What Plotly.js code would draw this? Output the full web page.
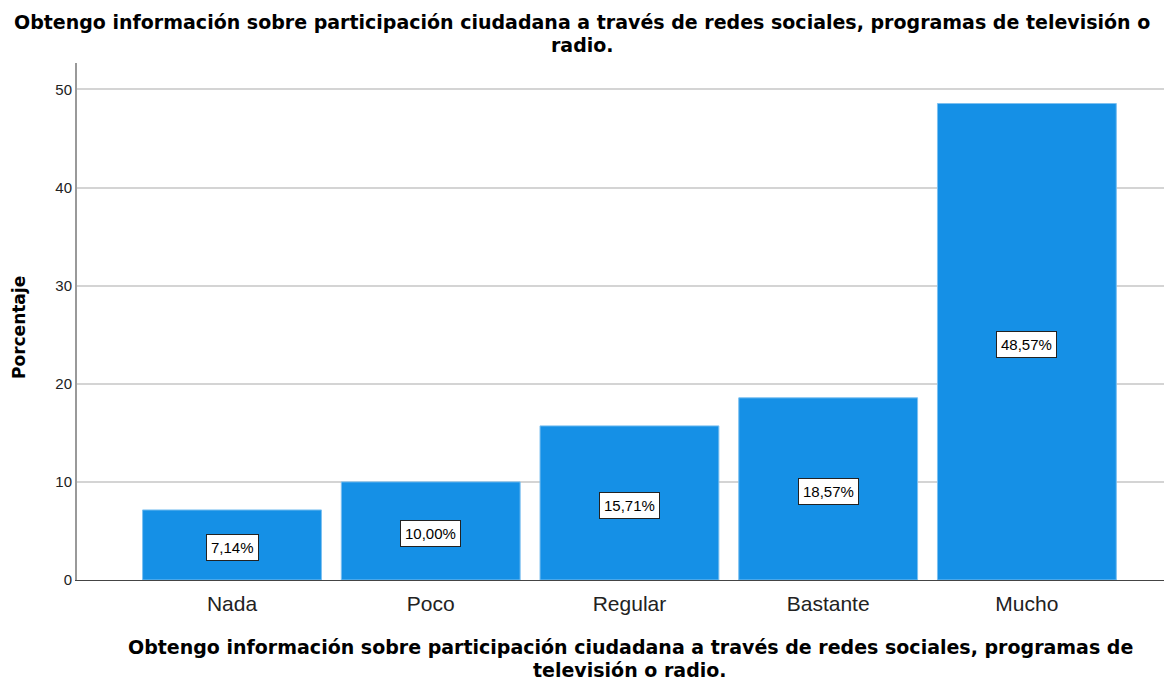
<!DOCTYPE html>
<html>
<head>
<meta charset="utf-8">
<script src="https://cdn.plot.ly/plotly-3.0.1.min.js"></script>
<style>html,body{margin:0;padding:0;background:#fff;}#chart{width:1164px;height:681px;}</style>
</head>
<body>
<div id="chart"></div>
<script>
const categories = ["Nada", "Poco", "Regular", "Bastante", "Mucho"];
const percentages = [7.14, 10.00, 15.71, 18.57, 48.57];
const valueLabels = ["7,14%", "10,00%", "15,71%", "18,57%", "48,57%"];
const yTicks = [0, 10, 20, 30, 40, 50];

const titleLines = ["Obtengo información sobre participación ciudadana a través de redes sociales, programas de televisión o", "radio."];
const xTitleLines = ["Obtengo información sobre participación ciudadana a través de redes sociales, programas de", "televisión o radio."];
const yTitleText = "Porcentaje";

const FONT = "Liberation Sans, Arial, sans-serif";
const BOLD = "DejaVu Sans, Liberation Sans, sans-serif";

// plot area in pixels (for converting text positions)
const W = 1164, H = 681, ML = 77, MR = 0, MT = 63, MB = 101;
const plotH = H - MT - MB, plotW = W - ML - MR;
const py = (pix) => (H - MB - pix) / plotH;   // pixel row -> paper y
const px = (pix) => (pix - ML) / plotW;       // pixel col -> paper x

const trace = {
  type: "bar",
  x: categories,
  y: percentages,
  marker: {color: "#1590e6", line: {color: "#7cc0f0", width: 1}},
  hoverinfo: "skip"
};

const annotations = categories.map((c, i) => ({
  x: c, y: percentages[i] / 2 - 0.3, xref: "x", yref: "y",
  text: valueLabels[i], showarrow: false,
  font: {family: FONT, size: 15, color: "#000"},
  bgcolor: "#ffffff", bordercolor: "#222", borderwidth: 1, borderpad: 4
}));

const titleFont = {family: BOLD, size: 19, color: "#000", weight: "bold"};
const titleCenters = [22, 45];
titleLines.forEach((t, i) => annotations.push({
  xref: "paper", yref: "paper", x: px(582), y: py(titleCenters[i]), yanchor: "middle", xanchor: "center",
  text: t, showarrow: false, font: titleFont
}));
const xTitleCenters = [647, 670];
xTitleLines.forEach((t, i) => annotations.push({
  xref: "paper", yref: "paper", x: px(630), y: py(xTitleCenters[i]), yanchor: "middle", xanchor: "center",
  text: t, showarrow: false, font: titleFont
}));
annotations.push({
  xref: "paper", yref: "paper", x: px(19), y: py(328), xanchor: "center", yanchor: "middle",
  text: yTitleText, textangle: -90, showarrow: false,
  font: {family: BOLD, size: 17, color: "#000", weight: "bold"}
});

const layout = {
  width: W, height: H,
  margin: {l: ML, r: MR, t: MT, b: MB},
  paper_bgcolor: "#fff", plot_bgcolor: "#fff",
  bargap: 0.1,
  showlegend: false,
  xaxis: {
    type: "category",
    range: [-0.78, 4.69],
    showline: true, linecolor: "#444", linewidth: 1,
    showgrid: false, ticks: "",
    ticklabelstandoff: 5,
    tickfont: {family: FONT, size: 21, color: "#222"},
    zeroline: false, fixedrange: true
  },
  yaxis: {
    range: [0, 52.7],
    tickvals: yTicks, ticktext: yTicks.map(String),
    showline: true, linecolor: "#999", linewidth: 2,
    showgrid: true, gridcolor: "#d4d4d4", gridwidth: 2,
    ticks: "", ticklen: 0,
    tickfont: {family: FONT, size: 15, color: "#222"},
    zeroline: false, fixedrange: true
  },
  annotations: annotations
};

Plotly.newPlot("chart", [trace], layout, {displayModeBar: false, staticPlot: true});
</script>
</body>
</html>
